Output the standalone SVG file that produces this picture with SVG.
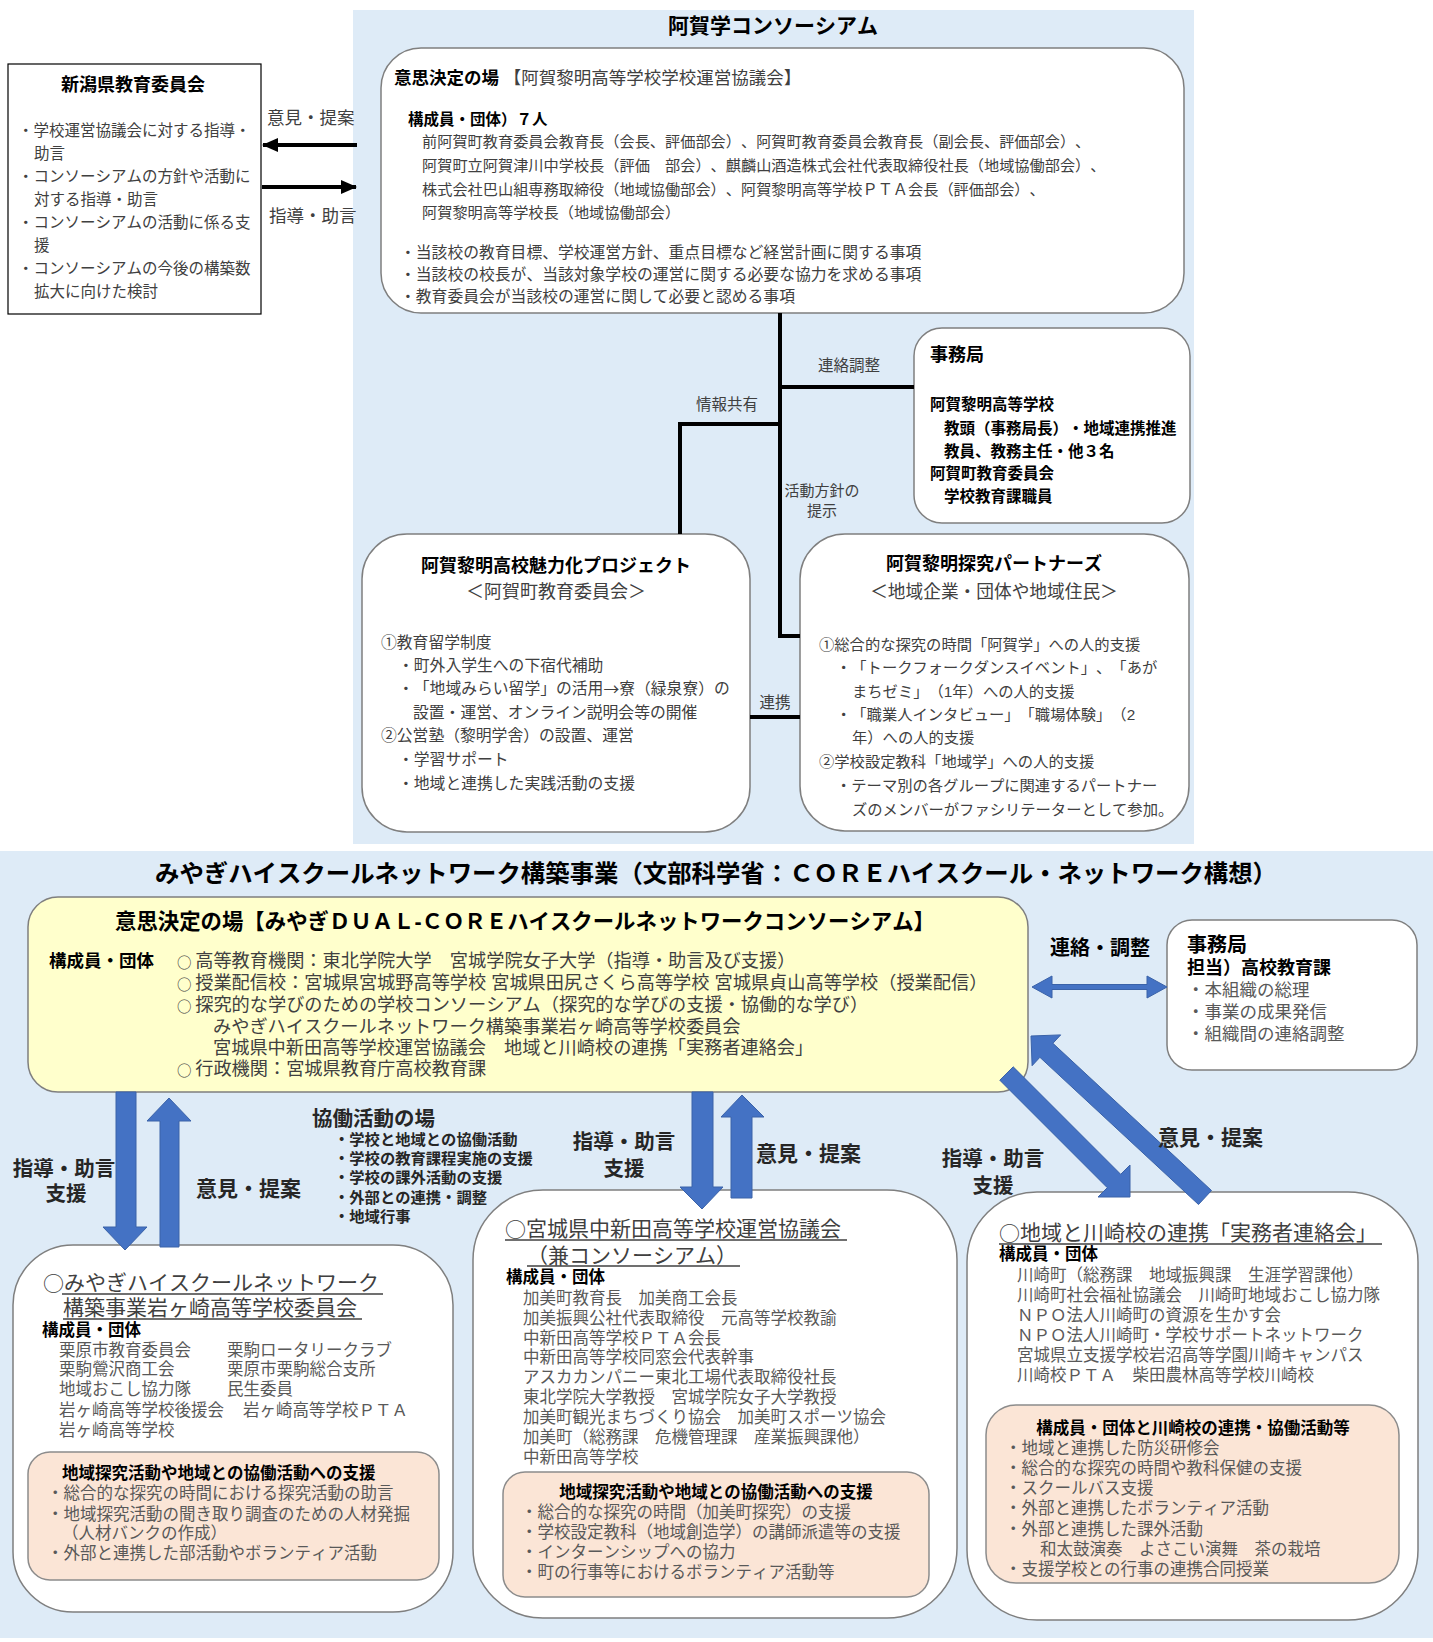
<svg xmlns="http://www.w3.org/2000/svg" width="1433" height="1642" viewBox="0 0 1433 1642">
<style>
text{font-family:"Liberation Sans","Noto Sans CJK JP","Noto Sans CJK SC",sans-serif;fill:#404040;text-spacing-trim:space-all;font-kerning:none}
text,tspan{dominant-baseline:central}
.cj{font-family:"Noto Sans CJK JP","Noto Sans CJK SC",sans-serif}
.k{font-weight:bold;fill:#000}
.kd{font-weight:bold;fill:#262626}
.g{fill:#595959}
.n{font-weight:normal;fill:#404040}
.box{fill:#fff;stroke:#7f7f7f;stroke-width:1.5}
.peach{fill:#fbe5d6;stroke:#8c8c8c;stroke-width:1.5}
.ul{stroke:#404040;stroke-width:1.5}
.ln{fill:none;stroke:#000;stroke-width:4}
.blue{fill:#4472c4;stroke:#3a62a8;stroke-width:1}
.m{text-anchor:middle}
</style>
<defs>
<marker id="ah" markerUnits="userSpaceOnUse" markerWidth="16" markerHeight="14" refX="15" refY="7" orient="auto">
<path d="M0,0 L16,7 L0,14 z" fill="#000"/>
</marker>
</defs>

<g id="panels">
<rect id="panel-aga" x="353" y="10" width="841" height="834" fill="#deebf7"/>
<rect id="panel-miyagi" x="0" y="851" width="1433" height="787" fill="#deebf7"/>
<text class="k m" x="773" y="25" font-size="21">阿賀学コンソーシアム</text>
<text class="k m" x="716" y="873" font-size="24.4">みやぎハイスクールネットワーク構築事業（文部科学省：ＣＯＲＥハイスクール・ネットワーク構想）</text>
</g>

<g id="niigata">
<rect x="8" y="64" width="253" height="250" fill="#fff" stroke="#000" stroke-width="1.2"/>
<text font-size="15.5"><tspan class="k" x="133" y="85" font-size="18" text-anchor="middle">新潟県教育委員会</tspan><tspan x="18" y="130" text-anchor="start">・学校運営協議会に対する指導・</tspan><tspan x="34" y="153">助言</tspan><tspan x="18" y="176">・コンソーシアムの方針や活動に</tspan><tspan x="34" y="199">対する指導・助言</tspan><tspan x="18" y="222">・コンソーシアムの活動に係る支</tspan><tspan x="34" y="245">援</tspan><tspan x="18" y="268">・コンソーシアムの今後の構築数</tspan><tspan x="34" y="291">拡大に向けた検討</tspan></text>
</g>

<g id="aga-council">
<rect class="box" x="381" y="48" width="803" height="265" rx="40"/>
<text font-size="15.2"><tspan class="k" x="394" y="78" font-size="17.5">意思決定の場</tspan><tspan font-size="17.5"> 【阿賀黎明高等学校学校運営協議会】</tspan><tspan class="k" x="408" y="119" font-size="15.5">構成員・団体）７人</tspan><tspan x="422" y="141">前阿賀町教育委員会教育長（会長、評価部会）、阿賀町教育委員会教育長（副会長、評価部会）、</tspan><tspan x="422" y="165">阿賀町立阿賀津川中学校長（評価　部会）、麒麟山酒造株式会社代表取締役社長（地域協働部会）、</tspan><tspan x="422" y="189">株式会社巴山組専務取締役（地域協働部会）、阿賀黎明高等学校ＰＴＡ会長（評価部会）、</tspan><tspan x="422" y="212">阿賀黎明高等学校長（地域協働部会）</tspan><tspan x="400" y="252" font-size="15.8">・当該校の教育目標、学校運営方針、重点目標など経営計画に関する事項</tspan><tspan x="400" y="274" font-size="15.8">・当該校の校長が、当該対象学校の運営に関する必要な協力を求める事項</tspan><tspan x="400" y="296" font-size="15.8">・教育委員会が当該校の運営に関して必要と認める事項</tspan></text>
</g>

<g id="aga-secretariat">
<rect class="box" x="914" y="328" width="276" height="195" rx="28"/>
<text class="k" font-size="15.5"><tspan x="930" y="355" font-size="18">事務局</tspan><tspan x="930" y="404">阿賀黎明高等学校</tspan><tspan x="944" y="428">教頭（事務局長）・地域連携推進</tspan><tspan x="944" y="451">教員、教務主任・他３名</tspan><tspan x="930" y="473">阿賀町教育委員会</tspan><tspan x="944" y="496">学校教育課職員</tspan></text>
</g>

<g id="aga-project">
<rect class="box" x="362" y="534" width="388" height="298" rx="45"/>
<text font-size="15.8"><tspan class="k" x="556" y="566" font-size="18" text-anchor="middle">阿賀黎明高校魅力化プロジェクト</tspan><tspan x="556" y="592" font-size="18" text-anchor="middle">＜阿賀町教育委員会＞</tspan><tspan x="381" y="642" text-anchor="start">①教育留学制度</tspan><tspan x="398" y="665">・町外入学生への下宿代補助</tspan><tspan x="398" y="688">・「地域みらい留学」の活用<tspan class="cj">→</tspan>寮（緑泉寮）の</tspan><tspan x="413" y="712">設置・運営、オンライン説明会等の開催</tspan><tspan x="381" y="735">②公営塾（黎明学舎）の設置、運営</tspan><tspan x="398" y="759">・学習サポート</tspan><tspan x="398" y="783">・地域と連携した実践活動の支援</tspan></text>
</g>

<g id="aga-partners">
<rect class="box" x="800" y="534" width="389" height="297" rx="45"/>
<text font-size="15.3"><tspan class="k" x="994" y="564" font-size="18" text-anchor="middle">阿賀黎明探究パートナーズ</tspan><tspan x="994" y="592" font-size="17.7" text-anchor="middle">＜地域企業・団体や地域住民＞</tspan><tspan x="819" y="644" text-anchor="start">①総合的な探究の時間「阿賀学」への人的支援</tspan><tspan x="836" y="667">・「トークフォークダンスイベント」、「あが</tspan><tspan x="852" y="691">まちゼミ」（1年）への人的支援</tspan><tspan x="836" y="714">・「職業人インタビュー」「職場体験」（2</tspan><tspan x="852" y="737">年）への人的支援</tspan><tspan x="819" y="761">②学校設定教科「地域学」への人的支援</tspan><tspan x="836" y="785">・テーマ別の各グループに関連するパートナー</tspan><tspan x="852" y="809">ズのメンバーがファシリテーターとして参加。</tspan></text>
</g>

<g id="miyagi-council">
<rect x="28" y="897" width="1000" height="195" rx="30" fill="#ffffcc" stroke="#7f7f7f" stroke-width="1.5"/>
<text font-size="18.2"><tspan class="k" x="115" y="922" font-size="21.4">意思決定の場【みやぎＤＵＡＬ-ＣＯＲＥハイスクールネットワークコンソーシアム】</tspan><tspan class="k" x="49" y="961" font-size="17.5">構成員・団体</tspan><tspan x="177" y="961"><tspan class="cj" font-size="14.5">○</tspan><tspan dx="3.7">高等教育機関：東北学院大学　宮城学院女子大学（指導・助言及び支援）</tspan></tspan><tspan x="177" y="983"><tspan class="cj" font-size="14.5">○</tspan><tspan dx="3.7">授業配信校：宮城県宮城野高等学校 宮城県田尻さくら高等学校 宮城県貞山高等学校（授業配信）</tspan></tspan><tspan x="177" y="1005"><tspan class="cj" font-size="14.5">○</tspan><tspan dx="3.7">探究的な学びのための学校コンソーシアム（探究的な学びの支援・協働的な学び）</tspan></tspan><tspan x="213" y="1027">みやぎハイスクールネットワーク構築事業岩ヶ崎高等学校委員会</tspan><tspan x="213" y="1048">宮城県中新田高等学校運営協議会　地域と川崎校の連携「実務者連絡会」</tspan><tspan x="177" y="1069"><tspan class="cj" font-size="14.5">○</tspan><tspan dx="3.7">行政機関：宮城県教育庁高校教育課</tspan></tspan></text>
</g>

<g id="miyagi-secretariat">
<rect class="box" x="1167" y="920" width="250" height="150" rx="25"/>
<text font-size="17.5"><tspan class="k" x="1187" y="945" font-size="20">事務局</tspan><tspan class="k" x="1187" y="968" font-size="18">担当）高校教育課</tspan><tspan class="g" x="1187" y="990">・本組織の総理</tspan><tspan class="g" x="1187" y="1012">・事業の成果発信</tspan><tspan class="g" x="1187" y="1034">・組織間の連絡調整</tspan></text>
</g>

<g id="collab-place">
<text class="kd" font-size="15.3"><tspan x="312" y="1118" font-size="20.5">協働活動の場</tspan><tspan x="334" y="1139">・学校と地域との協働活動</tspan><tspan x="334" y="1158">・学校の教育課程実施の支援</tspan><tspan x="334" y="1177">・学校の課外活動の支援</tspan><tspan x="334" y="1197">・外部との連携・調整</tspan><tspan x="334" y="1216">・地域行事</tspan></text>
</g>

<g id="iwagasaki">
<rect class="box" x="13" y="1245" width="440" height="367" rx="60"/>
<line class="ul" x1="62" y1="1294" x2="383" y2="1294"/>
<line class="ul" x1="63" y1="1319" x2="362" y2="1319"/>
<text class="g" font-size="16.5"><tspan class="n" x="43" y="1282" font-size="21"><tspan class="cj">○</tspan>みやぎハイスクールネットワーク</tspan><tspan class="n" x="63" y="1307" font-size="21">構築事業岩ヶ崎高等学校委員会</tspan><tspan class="k" x="42" y="1330">構成員・団体</tspan><tspan x="59" y="1350">栗原市教育委員会</tspan><tspan x="227" y="1350">栗駒ロータリークラブ</tspan><tspan x="59" y="1369">栗駒鶯沢商工会</tspan><tspan x="227" y="1369">栗原市栗駒総合支所</tspan><tspan x="59" y="1389">地域おこし協力隊</tspan><tspan x="227" y="1389">民生委員</tspan><tspan x="59" y="1410">岩ヶ崎高等学校後援会</tspan><tspan x="243" y="1410">岩ヶ崎高等学校ＰＴＡ</tspan><tspan x="59" y="1430">岩ヶ崎高等学校</tspan></text>
<rect class="peach" x="28" y="1452" width="411" height="128" rx="22"/>
<text class="g" font-size="16.5"><tspan class="k" x="62" y="1473">地域探究活動や地域との協働活動への支援</tspan><tspan x="47" y="1493">・総合的な探究の時間における探究活動の助言</tspan><tspan x="47" y="1514">・地域探究活動の聞き取り調査のための人材発掘</tspan><tspan x="62" y="1533">（人材バンクの作成）</tspan><tspan x="47" y="1553">・外部と連携した部活動やボランティア活動</tspan></text>
</g>

<g id="nakaniida">
<rect class="box" x="473" y="1190" width="484" height="428" rx="70"/>
<line class="ul" x1="505" y1="1240" x2="847" y2="1240"/>
<line class="ul" x1="527" y1="1266" x2="740" y2="1266"/>
<text class="g" font-size="16.5"><tspan class="n" x="505" y="1228" font-size="21"><tspan class="cj">○</tspan>宮城県中新田高等学校運営協議会</tspan><tspan class="n" x="527" y="1255" font-size="21">（兼コンソーシアム）</tspan><tspan class="k" x="506" y="1277">構成員・団体</tspan><tspan x="523" y="1298">加美町教育長　加美商工会長</tspan><tspan x="523" y="1318">加美振興公社代表取締役　元高等学校教諭</tspan><tspan x="523" y="1338">中新田高等学校ＰＴＡ会長</tspan><tspan x="523" y="1357">中新田高等学校同窓会代表幹事</tspan><tspan x="523" y="1377">アスカカンパニー東北工場代表取締役社長</tspan><tspan x="523" y="1397">東北学院大学教授　宮城学院女子大学教授</tspan><tspan x="523" y="1417">加美町観光まちづくり協会　加美町スポーツ協会</tspan><tspan x="523" y="1437">加美町（総務課　危機管理課　産業振興課他）</tspan><tspan x="523" y="1457">中新田高等学校</tspan></text>
<rect class="peach" x="503" y="1472" width="426" height="125" rx="22"/>
<text class="g" font-size="16.5"><tspan class="k" x="716" y="1492" text-anchor="middle">地域探究活動や地域との協働活動への支援</tspan><tspan x="521" y="1512" text-anchor="start">・総合的な探究の時間（加美町探究）の支援</tspan><tspan x="521" y="1532">・学校設定教科（地域創造学）の講師派遣等の支援</tspan><tspan x="521" y="1552">・インターンシップへの協力</tspan><tspan x="521" y="1572">・町の行事等におけるボランティア活動等</tspan></text>
</g>

<g id="kawasaki">
<rect class="box" x="967" y="1192" width="451" height="428" rx="70"/>
<line class="ul" x1="999" y1="1244" x2="1382" y2="1244"/>
<text class="g" font-size="16.5"><tspan class="n" x="999" y="1232" font-size="21"><tspan class="cj">○</tspan>地域と川崎校の連携「実務者連絡会」</tspan><tspan class="k" x="999" y="1254">構成員・団体</tspan><tspan x="1017" y="1275">川崎町（総務課　地域振興課　生涯学習課他）</tspan><tspan x="1017" y="1295">川崎町社会福祉協議会　川崎町地域おこし協力隊</tspan><tspan x="1017" y="1315">ＮＰＯ法人川崎町の資源を生かす会</tspan><tspan x="1017" y="1335">ＮＰＯ法人川崎町・学校サポートネットワーク</tspan><tspan x="1017" y="1355">宮城県立支援学校岩沼高等学園川崎キャンパス</tspan><tspan x="1017" y="1375">川崎校ＰＴＡ　柴田農林高等学校川崎校</tspan></text>
<rect class="peach" x="986" y="1405" width="413" height="178" rx="30"/>
<text class="g" font-size="16.5"><tspan class="k" x="1193" y="1428" text-anchor="middle">構成員・団体と川崎校の連携・協働活動等</tspan><tspan x="1005" y="1448" text-anchor="start">・地域と連携した防災研修会</tspan><tspan x="1005" y="1468">・総合的な探究の時間や教科保健の支援</tspan><tspan x="1005" y="1488">・スクールバス支援</tspan><tspan x="1005" y="1508">・外部と連携したボランティア活動</tspan><tspan x="1005" y="1529">・外部と連携した課外活動</tspan><tspan x="1040" y="1549">和太鼓演奏　よさこい演舞　茶の栽培</tspan><tspan x="1005" y="1569">・支援学校との行事の連携合同授業</tspan></text>
</g>

<g id="connectors">
<line class="ln" x1="357" y1="145" x2="263" y2="145" marker-end="url(#ah)"/>
<line class="ln" x1="262" y1="187" x2="356" y2="187" marker-end="url(#ah)"/>
<text x="267" y="118" font-size="17.5">意見・提案</text>
<text x="269" y="216" font-size="17.5">指導・助言</text>
<path class="ln" d="M780,313 V636 H800"/>
<path class="ln" d="M780,387 H914"/>
<path class="ln" d="M780,424 H680 V534"/>
<path class="ln" d="M750,717 H800"/>
<text class="m" x="849" y="365" font-size="15.5">連絡調整</text>
<text class="m" x="727" y="404" font-size="15.5">情報共有</text>
<text class="m" font-size="15"><tspan x="822" y="490">活動方針の</tspan><tspan x="822" y="510">提示</tspan></text>
<text class="m" x="775" y="702" font-size="15.5">連携</text>

<polygon class="blue" points="1032,987 1052,976 1052,984.5 1147,984.5 1147,976 1167,987 1147,998 1147,989.5 1052,989.5 1052,998"/>
<text class="k m" x="1100" y="948" font-size="20">連絡・調整</text>

<polygon class="blue" points="116,1092 136,1092 136,1227 147,1227 125,1250 103,1227 116,1227"/>
<polygon class="blue" points="160,1247 160,1121 147,1121 169,1098 191,1121 179,1121 179,1247"/>
<text class="kd m" font-size="20.5"><tspan x="64" y="1168">指導・助言</tspan><tspan x="66" y="1193">支援</tspan></text>
<text class="kd" x="196" y="1188" font-size="21">意見・提案</text>

<polygon class="blue" points="692,1092 713,1092 713,1187 723,1187 702,1209 680,1187 692,1187"/>
<polygon class="blue" points="731,1198 731,1117 721,1117 742,1095 764,1117 752,1117 752,1198"/>
<text class="kd m" font-size="20.5"><tspan x="624" y="1141">指導・助言</tspan><tspan x="624" y="1168">支援</tspan></text>
<text class="kd" x="756" y="1153" font-size="21">意見・提案</text>

<polygon class="blue" points="1013.2,1066.8 1120.7,1174.3 1130,1165 1130,1197 1098,1197 1107.3,1187.7 999.8,1080.2"/>
<polygon class="blue" points="1211.5,1190.5 1052.9,1043.3 1060.7,1034.9 1031,1036 1032.1,1065.7 1039.9,1057.3 1198.5,1204.5"/>
<text class="kd m" font-size="20.5"><tspan x="993" y="1158">指導・助言</tspan><tspan x="993" y="1185">支援</tspan></text>
<text class="kd" x="1158" y="1137" font-size="21">意見・提案</text>
</g>
</svg>
